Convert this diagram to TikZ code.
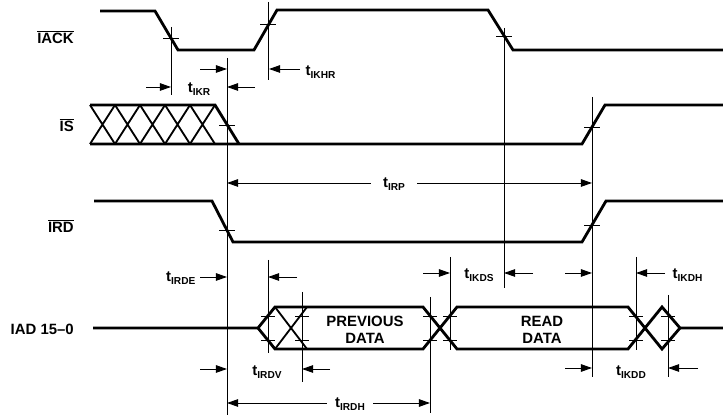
\documentclass[tikz,border=0pt]{standalone}
\usepackage{fontspec}
\setmainfont{Liberation Sans}
\usepackage{tikz}
\usetikzlibrary{arrows.meta, calc}

\newcommand{\tname}[1]{t\raisebox{-0.4ex}{\fontsize{7.2}{8}\selectfont #1}}
\newcommand{\negsig}[1]{$\overline{\hbox{#1}}$}

\begin{document}
\begin{tikzpicture}[
    x=0.025cm, y=-0.025cm,
    sig/.style={line width=2pt, line join=miter},
    hatch/.style={line width=1.3pt},
    guide/.style={line width=0.7pt},
    tick/.style={line width=0.7pt},
    dimarrow/.style={-{Triangle[length=0.28cm, width=0.19cm]}, line width=0.7pt},
    dimboth/.style={{Triangle[length=0.28cm, width=0.19cm]}-{Triangle[length=0.28cm, width=0.19cm]}, line width=0.7pt},
    signame/.style={anchor=east, inner sep=0pt, font=\fontsize{10.6}{12}\selectfont\bfseries},
    tlabel/.style={inner sep=1pt, font=\fontsize{10.6}{12}\selectfont\bfseries},
    datatext/.style={align=center, inner sep=0pt, font=\fontsize{10.6}{12.4}\selectfont\bfseries},
  ]
  \useasboundingbox (0,0) rectangle (723,418);

  % Signal names
  \node[signame] (iack) at (74,37) {\negsig{IACK}};
  \node[signame] (is) at (74,125) {\negsig{IS}};
  \node[signame] (ird) at (74,226) {\negsig{IRD}};
  \node[signame] (iad) at (74,329) {IAD 15--0};

  % Waveforms
  \draw[sig] (100,11) -- (155,11) -- (178,50) -- (254,50) -- (277,10) -- (488,10) -- (513,50) -- (723,50);
  \draw[sig] (90,105) -- (215,105) -- (239,144);
  \draw[sig] (90,144) -- (582,144) -- (605,105) -- (723,105);
  \foreach \x in {90,115,...,190}
    \draw[hatch] (\x,105) -- (\x+25,144) (\x,144) -- (\x+25,105);
  \draw[sig] (94,201) -- (212,201) -- (233,242) -- (582,242) -- (606,201) -- (723,201);

  % Data bus
  \draw[sig] (93,328) -- (258,328) -- (275,307) -- (423,307) -- (457,349) -- (628,349) -- (662,307) -- (680,328) -- (723,328);
  \draw[sig] (258,328) -- (275,349) -- (423,349) -- (457,307) -- (628,307) -- (662,349) -- (680,328);
  \draw[hatch] (275,307) -- (307,349) (275,349) -- (307,307);
  \node[datatext] (prev) at (365,330) {PREVIOUS\\DATA};
  \node[datatext] (read) at (542,330) {READ\\DATA};

  % Reference lines
  \draw[guide] (171,27) -- (171,95);
  \draw[guide] (268,2) -- (268,80);
  \draw[guide] (504,28) -- (504,288);
  \draw[guide] (227,58) -- (227,415);
  \draw[guide] (592,97) -- (592,377);
  \draw[guide] (268,260) -- (268,353);
  \draw[guide] (302,292) -- (302,382);
  \draw[guide] (430,297) -- (430,413);
  \draw[guide] (450,257) -- (450,350);
  \draw[guide] (636,257) -- (636,350);
  \draw[guide] (668,295) -- (668,377);

  % Crossing marks
  \foreach \x/\y in {171/38, 268/24, 504/36, 227/125, 592/127, 227/230, 592/225}
    \draw[tick] (\x-8,\y) -- (\x+8,\y);
  \foreach \x in {268,302,430,450,636,668}
    \draw[tick] (\x-7,316) -- (\x+7,316) (\x-7,340) -- (\x+7,340);

  % Timing parameters
  \draw[dimarrow] (146,87) -- (171,87);
  \draw[dimarrow] (255,87) -- (227,87);
  \node[tlabel] (tikr) at (199,89) {\tname{IKR}};

  \draw[dimarrow] (200,69) -- (227,69);
  \draw[dimarrow] (300,69) -- (269,69);
  \node[tlabel, anchor=west] (tikhr) at (304,72) {\tname{IKHR}};

  \draw[dimboth] (227,183) -- (592,183);
  \node[tlabel, fill=white, inner xsep=0.3cm] (tirp) at (394,184) {\tname{IRP}};

  \draw[dimarrow] (200,277) -- (227,277);
  \draw[dimarrow] (297,277) -- (268,277);
  \node[tlabel, anchor=east] (tirde) at (197,278) {\tname{IRDE}};

  \draw[dimarrow] (423,273) -- (450,273);
  \draw[dimarrow] (533,273) -- (504,273);
  \node[tlabel] (tikds) at (479,275) {\tname{IKDS}};

  \draw[dimarrow] (565,273) -- (592,273);
  \draw[dimarrow] (665,273) -- (636,273);
  \node[tlabel, anchor=west] (tikdh) at (671,275) {\tname{IKDH}};

  \draw[dimarrow] (200,369) -- (227,369);
  \draw[dimarrow] (330,369) -- (302,369);
  \node[tlabel] (tirdv) at (267,372) {\tname{IRDV}};

  \draw[dimarrow] (565,368) -- (592,368);
  \draw[dimarrow] (698,368) -- (668,368);
  \node[tlabel] (tikdd) at (631,372) {\tname{IKDD}};

  \draw[dimboth] (227,403) -- (430,403);
  \node[tlabel, fill=white, inner xsep=0.2cm] (tirdh) at (350,404) {\tname{IRDH}};
\end{tikzpicture}
\end{document}
